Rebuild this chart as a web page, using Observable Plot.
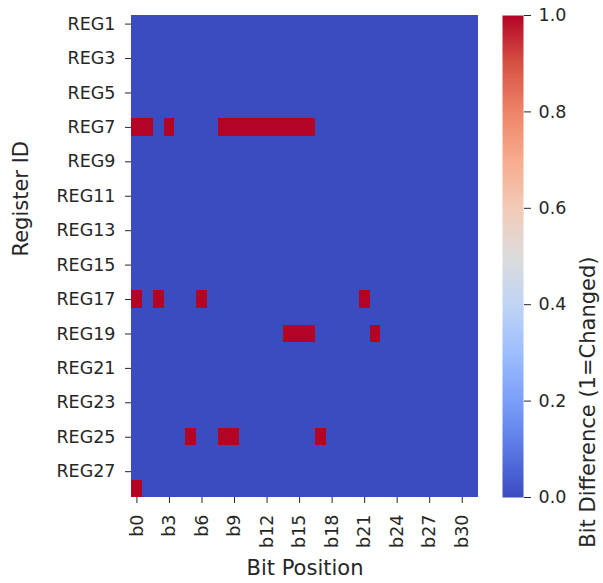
<!DOCTYPE html>
<html><head><meta charset="utf-8">
<script src="https://cdn.jsdelivr.net/npm/d3@7"></script>
<script src="https://cdn.jsdelivr.net/npm/@observablehq/plot@0.6"></script>
<style>
body{margin:0;background:#fff;}
#wrap{position:relative;width:603px;height:583px;overflow:hidden;}
#wrap svg{display:block;position:absolute;top:0;max-width:none !important;}
</style></head><body><div id="wrap"></div>
<script>
const registers = ["REG1","REG2","REG3","REG4","REG5","REG6","REG7","REG8","REG9","REG10",
  "REG11","REG12","REG13","REG14","REG15","REG16","REG17","REG18","REG19","REG20",
  "REG21","REG22","REG23","REG24","REG25","REG26","REG27","REG28"];
const bits = ["b0","b1","b2","b3","b4","b5","b6","b7","b8","b9","b10","b11","b12","b13","b14","b15",
  "b16","b17","b18","b19","b20","b21","b22","b23","b24","b25","b26","b27","b28","b29","b30","b31"];
const changedCells = [
  ["REG7","b0"],["REG7","b1"],["REG7","b3"],["REG7","b8"],["REG7","b9"],["REG7","b10"],["REG7","b11"],
  ["REG7","b12"],["REG7","b13"],["REG7","b14"],["REG7","b15"],["REG7","b16"],
  ["REG17","b0"],["REG17","b2"],["REG17","b6"],["REG17","b21"],
  ["REG19","b14"],["REG19","b15"],["REG19","b16"],["REG19","b22"],
  ["REG25","b5"],["REG25","b8"],["REG25","b9"],["REG25","b17"],
  ["REG28","b0"]
];
const xTickLabels = ["b0","b3","b6","b9","b12","b15","b18","b21","b24","b27","b30"];
const yTickLabels = ["REG1","REG3","REG5","REG7","REG9","REG11","REG13","REG15","REG17","REG19","REG21","REG23","REG25","REG27"];
const colorTicks = [0, 0.2, 0.4, 0.6, 0.8, 1.0];
const coolwarmStops = ["#3b4cc0","#5a78e4","#7b9ff9","#9ebeff","#c0d4f5","#dddcdc","#f2cbb7","#f7ac8e","#ee8468","#d65244","#b40426"];
const xLabel = "Bit Position";
const yLabel = "Register ID";
const colorLabel = "Bit Difference (1=Changed)";

const changedSet = new Set(changedCells.map(([r, b]) => r + "|" + b));
const cells = registers.flatMap(r => bits.map(b => ({reg: r, bit: b, value: changedSet.has(r + "|" + b) ? 1 : 0})));
const interp = d3.piecewise(d3.interpolateRgb, coolwarmStops);
const font = "'DejaVu Sans', sans-serif";
const tickSize = 17.5;
const labelSize = 21;

const main = Plot.plot({
  width: 490, height: 583,
  marginLeft: 131, marginRight: 12, marginTop: 15, marginBottom: 86,
  style: {fontFamily: font, color: "#262626", background: "white", overflow: "visible"},
  x: {domain: bits, padding: 0, round: false, axis: null},
  y: {domain: registers, padding: 0, round: false, axis: null},
  color: {type: "linear", domain: [0, 1], interpolate: interp},
  marks: [
    Plot.cell(cells, {x: "bit", y: "reg", fill: "value", inset: 0, shapeRendering: "crispEdges"}),
    Plot.axisX({ticks: xTickLabels, tickRotate: -90, tickSize: 6, tickPadding: 11, fontSize: tickSize, label: null}),
    Plot.axisY({ticks: yTickLabels, tickSize: 6, tickPadding: 10, fontSize: tickSize, label: null}),
    Plot.text([xLabel], {text: d => d, frameAnchor: "bottom", dy: 71, fontSize: labelSize, lineAnchor: "middle"}),
    Plot.text([yLabel], {text: d => d, frameAnchor: "left", dx: -110, rotate: -90, fontSize: labelSize, lineAnchor: "middle"})
  ]
});

const bar = Plot.plot({
  width: 113, height: 583,
  marginLeft: 12, marginRight: 80, marginTop: 15, marginBottom: 86,
  style: {fontFamily: font, color: "#262626", background: "white", overflow: "visible"},
  x: {domain: [0, 1], axis: null},
  y: {domain: [0, 1], axis: null},
  color: {type: "linear", domain: [0, 1], interpolate: interp},
  marks: [
    Plot.raster({x1: 0, x2: 1, y1: 0, y2: 1, width: 1, height: 256, fill: (x, y) => y}),
    Plot.axisY({anchor: "right", ticks: colorTicks, tickFormat: d3.format(".1f"), tickSize: 7, tickPadding: 8, fontSize: tickSize, label: null}),
    Plot.text([colorLabel], {text: d => d, frameAnchor: "right", dx: 65, rotate: -90, fontSize: labelSize, lineAnchor: "middle"})
  ]
});

main.style.left = "0px";
bar.style.left = "490px";
document.getElementById("wrap").append(main, bar);
</script></body></html>
